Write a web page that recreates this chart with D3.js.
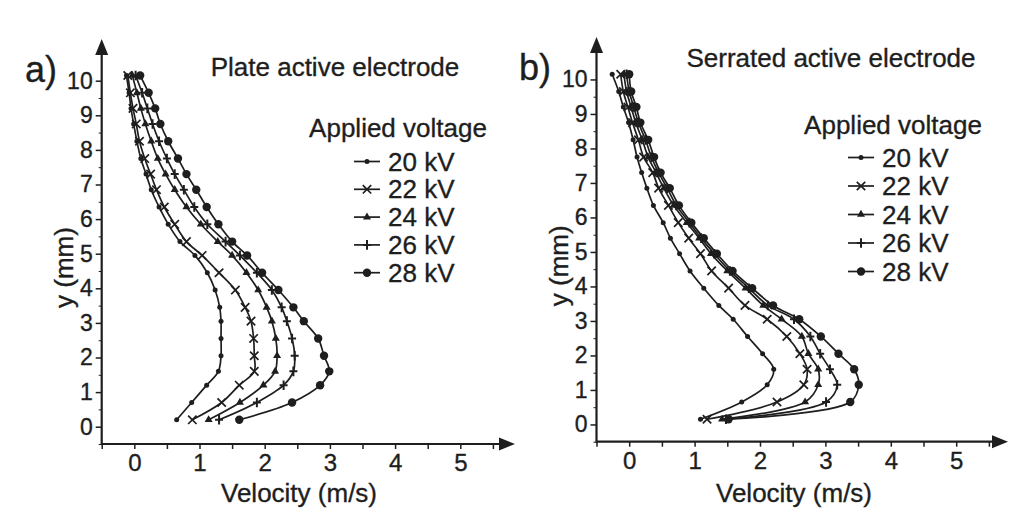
<!DOCTYPE html>
<html>
<head>
<meta charset="utf-8">
<script src="https://cdn.jsdelivr.net/npm/d3@7"></script>
<style>
  body { margin: 0; background: #fff; }
  svg { display: block; font-family: "Liberation Sans", Arial, sans-serif; }
  text { fill: #1e1e1e; stroke: #1e1e1e; stroke-width: 0.35; }
</style>
</head>
<body>
<svg id="chart" width="1024" height="508"></svg>
<script>
// measurement heights (mm) for each panel
const yPlate = [0.2, 0.7, 1.2, 1.6, 2.05, 2.55, 3.05, 3.45, 3.95, 4.45, 4.95, 5.35, 5.85, 6.35, 6.85, 7.3, 7.75, 8.25, 8.75, 9.2, 9.65, 10.15];
const ySerrated = [0.15, 0.65, 1.15, 1.6, 2.05, 2.55, 3.05, 3.45, 3.95, 4.45, 4.95, 5.4, 5.85, 6.35, 6.85, 7.3, 7.75, 8.25, 8.75, 9.2, 9.65, 10.15];

const voltages = ["20 kV", "22 kV", "24 kV", "26 kV", "28 kV"];
const markers = ["dot", "cross", "triangle", "plus", "bigdot"];

// velocity (m/s), plate active electrode
const plate20 = [0.65, 0.88, 1.11, 1.29, 1.33, 1.33, 1.33, 1.31, 1.24, 1.12, 0.93, 0.70, 0.52, 0.38, 0.26, 0.18, 0.10, 0.04, -0.01, -0.05, -0.08, -0.12];
const plate22 = [0.89, 1.34, 1.61, 1.84, 1.84, 1.83, 1.79, 1.70, 1.55, 1.30, 1.04, 0.80, 0.62, 0.46, 0.34, 0.25, 0.16, 0.08, 0.03, -0.02, -0.06, -0.10];
const plate24 = [1.14, 1.62, 1.98, 2.16, 2.19, 2.17, 2.11, 2.03, 1.90, 1.72, 1.50, 1.28, 1.02, 0.80, 0.62, 0.48, 0.36, 0.26, 0.17, 0.10, 0.04, -0.03];
const plate26 = [1.30, 1.88, 2.29, 2.44, 2.46, 2.42, 2.34, 2.26, 2.11, 1.88, 1.62, 1.40, 1.12, 0.92, 0.76, 0.62, 0.50, 0.38, 0.28, 0.20, 0.12, 0.02];
const plate28 = [1.61, 2.42, 2.85, 2.99, 2.91, 2.82, 2.60, 2.44, 2.21, 1.96, 1.73, 1.50, 1.29, 1.11, 0.95, 0.80, 0.67, 0.52, 0.40, 0.32, 0.22, 0.09];

// velocity (m/s), serrated active electrode
const serr20 = [1.09, 1.72, 2.11, 2.21, 2.04, 1.81, 1.59, 1.37, 1.14, 0.93, 0.77, 0.63, 0.52, 0.37, 0.27, 0.19, 0.12, 0.06, -0.01, -0.09, -0.16, -0.26];
const serr22 = [1.19, 2.26, 2.67, 2.72, 2.61, 2.41, 2.11, 1.77, 1.52, 1.26, 1.09, 0.91, 0.75, 0.60, 0.45, 0.36, 0.22, 0.14, 0.05, -0.02, -0.09, -0.13];
const serr24 = [1.42, 2.69, 2.89, 2.89, 2.74, 2.64, 2.33, 2.05, 1.78, 1.50, 1.25, 1.07, 0.88, 0.68, 0.53, 0.41, 0.29, 0.20, 0.10, 0.03, -0.04, -0.08];
const serr26 = [1.48, 3.01, 3.18, 3.07, 2.92, 2.77, 2.52, 2.12, 1.83, 1.54, 1.30, 1.10, 0.92, 0.72, 0.58, 0.45, 0.34, 0.25, 0.14, 0.07, 0.00, -0.04];
const serr28 = [1.52, 3.38, 3.51, 3.44, 3.20, 2.93, 2.60, 2.20, 1.88, 1.58, 1.34, 1.14, 0.95, 0.76, 0.62, 0.48, 0.38, 0.29, 0.17, 0.11, 0.03, 0.00];

const xTicks = [-0.5, 0, 0.5, 1, 1.5, 2, 2.5, 3, 3.5, 4, 4.5, 5, 5.5];
const yTicks = [0, 1, 2, 3, 4, 5, 6, 7, 8, 9, 10];
const yMinor = [-0.5, 0.5, 1.5, 2.5, 3.5, 4.5, 5.5, 6.5, 7.5, 8.5, 9.5];

const ink = "#1e1e1e";
const svg = d3.select("#chart");

const panels = [
  {
    letter: "a)", title: "Plate active electrode",
    ys: yPlate, series: [plate20, plate22, plate24, plate26, plate28],
    x0: 101.7, xUnit: 65.2, yBase: 444, yUnit: 34.6, xTip: 515, yTip: 39,
    letterPos: [41, 82], titlePos: [335, 76], appliedPos: [398, 137],
    legX: 354, legY: 161.5, legStep: 27.8, yLabelX: 73, xLabelX: 299
  },
  {
    letter: "b)", title: "Serrated active electrode",
    ys: ySerrated, series: [serr20, serr22, serr24, serr26, serr28],
    x0: 596.5, xUnit: 65.4, yBase: 441.7, yUnit: 34.5, xTip: 1008, yTip: 37,
    letterPos: [535, 80], titlePos: [831, 67], appliedPos: [893, 134],
    legX: 848, legY: 157.5, legStep: 28.5, yLabelX: 568, xLabelX: 794
  }
];

function drawMarker(g, type, cx, cy) {
  if (type === "dot") {
    g.append("circle").attr("cx", cx).attr("cy", cy).attr("r", 2.5).attr("fill", ink);
  } else if (type === "bigdot") {
    g.append("circle").attr("cx", cx).attr("cy", cy).attr("r", 4.2).attr("fill", ink);
  } else if (type === "triangle") {
    g.append("path").attr("d", d3.symbol(d3.symbolTriangle, 28)())
      .attr("transform", `translate(${cx},${cy})`).attr("fill", ink);
  } else if (type === "cross") {
    const a = 4.2;
    g.append("path").attr("d", `M${cx - a},${cy - a}L${cx + a},${cy + a}M${cx - a},${cy + a}L${cx + a},${cy - a}`)
      .attr("stroke", ink).attr("stroke-width", 1.7);
  } else if (type === "plus") {
    g.append("path").attr("d", `M${cx},${cy - 4.8}L${cx},${cy + 4.8}M${cx - 4},${cy}L${cx + 4},${cy}`)
      .attr("stroke", ink).attr("stroke-width", 2);
  }
}

panels.forEach(p => {
  const g = svg.append("g");
  const x = d3.scaleLinear().domain([-0.5, 5.5]).range([p.x0, p.x0 + 6 * p.xUnit]);
  const y = d3.scaleLinear().domain([-0.5, 10]).range([p.yBase, p.yBase - 10.5 * p.yUnit]);

  // x axis
  const xAxis = d3.axisBottom(x).tickValues(xTicks).tickSize(5)
    .tickFormat(d => (Number.isInteger(d) && d >= 0) ? d : "");
  const gx = g.append("g").attr("transform", `translate(0,${p.yBase})`).call(xAxis);
  gx.select(".domain").remove();
  gx.selectAll("line").attr("stroke", ink).attr("stroke-width", 1.5);
  gx.selectAll("text").attr("font-size", 24).attr("fill", ink).attr("dy", "0.71em").attr("y", 10)
    .attr("font-family", "Liberation Sans, Arial, sans-serif");

  // y axis
  const yAxis = d3.axisLeft(y).tickValues(yTicks).tickSize(6).tickPadding(3);
  const gy = g.append("g").attr("transform", `translate(${p.x0},0)`).call(yAxis);
  gy.select(".domain").remove();
  gy.selectAll("line").attr("stroke", ink).attr("stroke-width", 1.5);
  gy.selectAll("text").attr("font-size", 23).attr("fill", ink)
    .attr("font-family", "Liberation Sans, Arial, sans-serif");
  const gyMinor = g.append("g").attr("transform", `translate(${p.x0},0)`)
    .call(d3.axisLeft(y).tickValues(yMinor).tickSize(3).tickFormat(""));
  gyMinor.select(".domain").remove();
  gyMinor.selectAll("line").attr("stroke", ink).attr("stroke-width", 1);

  // axis lines with arrow heads
  g.append("line").attr("x1", p.x0).attr("x2", p.xTip - 12).attr("y1", p.yBase).attr("y2", p.yBase)
    .attr("stroke", ink).attr("stroke-width", 2.2);
  g.append("line").attr("x1", p.x0).attr("x2", p.x0).attr("y1", p.yBase + 1).attr("y2", p.yTip + 12)
    .attr("stroke", ink).attr("stroke-width", 2.2);
  g.append("path").attr("d", `M${p.xTip},${p.yBase}L${p.xTip - 16},${p.yBase - 6.5}L${p.xTip - 16},${p.yBase + 6.5}Z`).attr("fill", ink);
  g.append("path").attr("d", `M${p.x0},${p.yTip}L${p.x0 - 6.5},${p.yTip + 16}L${p.x0 + 6.5},${p.yTip + 16}Z`).attr("fill", ink);

  // series
  const line = d3.line().curve(d3.curveCatmullRom.alpha(0.5));
  p.series.forEach((vals, i) => {
    const pts = vals.map((v, k) => [x(v), y(p.ys[k])]);
    g.append("path").attr("d", line(pts)).attr("fill", "none")
      .attr("stroke", ink).attr("stroke-width", 1.7);
    const mg = g.append("g");
    pts.forEach(pt => drawMarker(mg, markers[i], pt[0], pt[1]));
  });

  // texts
  g.append("text").attr("x", p.letterPos[0]).attr("y", p.letterPos[1]).attr("text-anchor", "middle")
    .attr("font-size", 36).text(p.letter);
  g.append("text").attr("x", p.titlePos[0]).attr("y", p.titlePos[1]).attr("text-anchor", "middle")
    .attr("font-size", 26).text(p.title);
  g.append("text").attr("x", p.appliedPos[0]).attr("y", p.appliedPos[1]).attr("text-anchor", "middle")
    .attr("font-size", 26).text("Applied voltage");

  voltages.forEach((v, i) => {
    const cy = p.legY + i * p.legStep;
    g.append("line").attr("x1", p.legX).attr("x2", p.legX + 26).attr("y1", cy).attr("y2", cy)
      .attr("stroke", ink).attr("stroke-width", 1.7);
    drawMarker(g, markers[i], p.legX + 13, cy);
    g.append("text").attr("x", p.legX + 34).attr("y", cy + 9).attr("font-size", 26).text(v);
  });

  g.append("text").attr("transform", `translate(${p.yLabelX},${(y(5) + y(4.2)) / 2}) rotate(-90)`)
    .attr("text-anchor", "middle").attr("font-size", 26).text("y (mm)");
  g.append("text").attr("x", p.xLabelX).attr("y", 502).attr("text-anchor", "middle")
    .attr("font-size", 26).text("Velocity (m/s)");
});
</script>
</body>
</html>
